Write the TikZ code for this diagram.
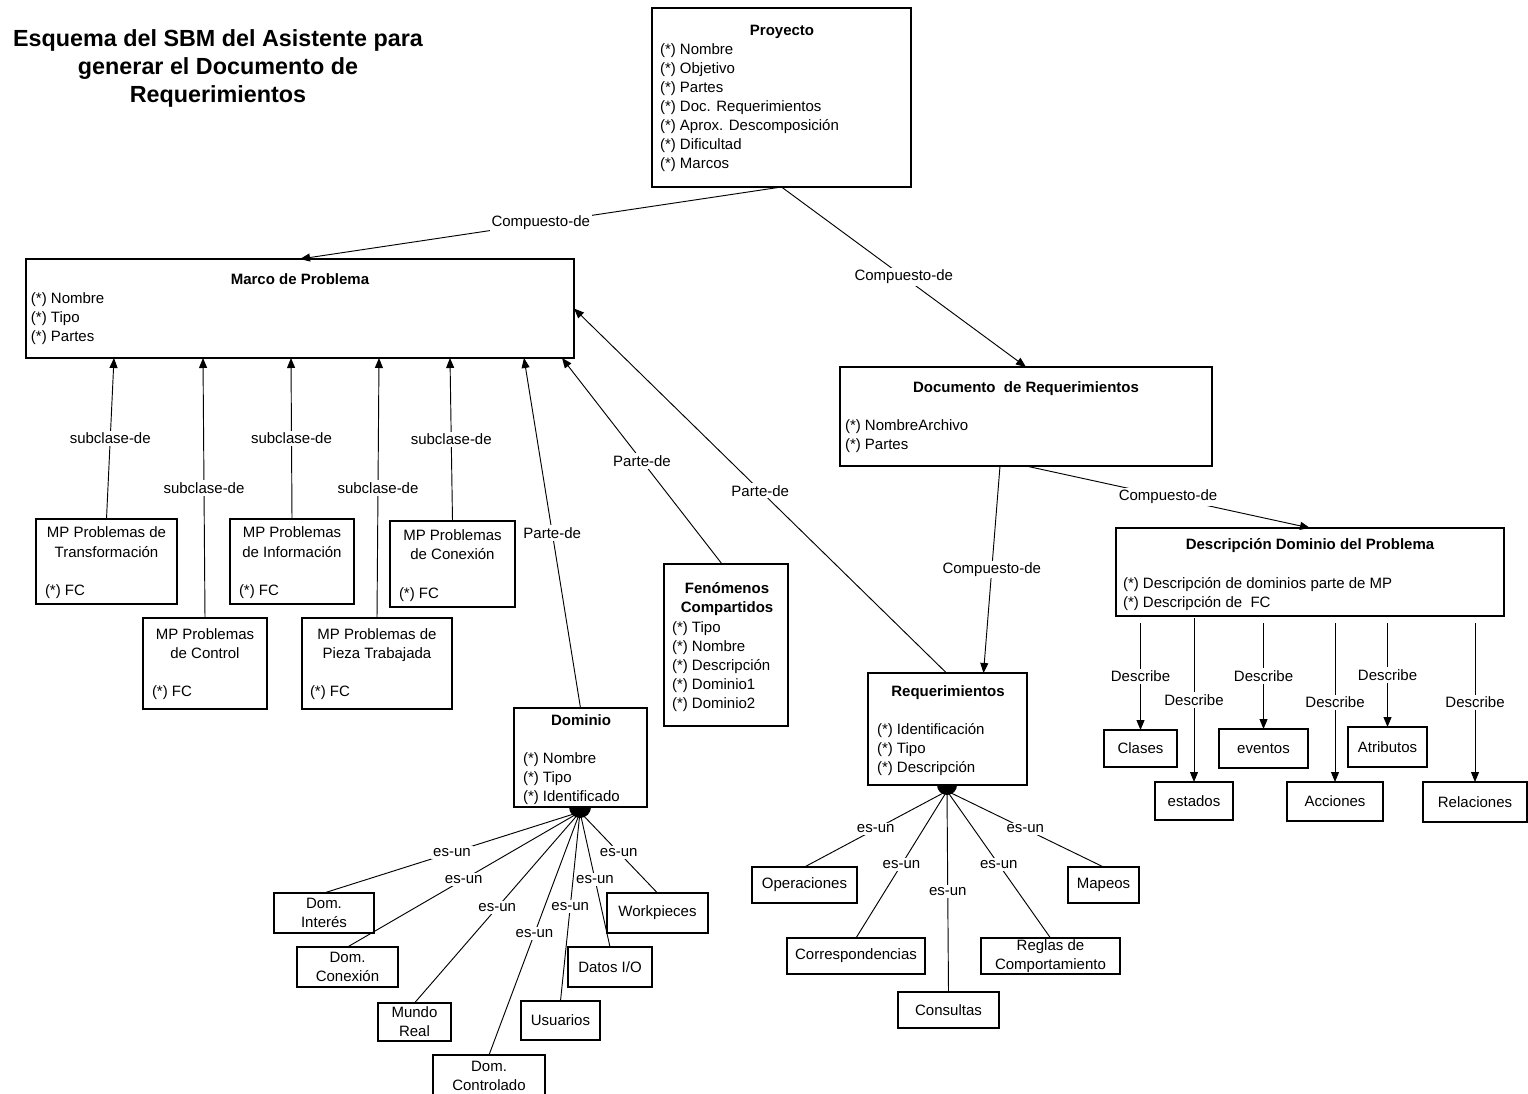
\documentclass[tikz,border=0pt]{standalone}
\usepackage{fontspec}
\setmainfont{Liberation Sans}
\usetikzlibrary{arrows.meta,calc}
\newcommand\bodyfs{\fontsize{11.25pt}{14.25pt}\selectfont}
\newcommand\titlefs{\fontsize{17.5pt}{21pt}\selectfont}
\newcommand\mkbox[6]{\node[boxst, minimum width={(#4-#2)*0.75pt}, minimum height={(#5-#3)*0.75pt}] (#1) at ({(#2+#4)/2},{(#3+#5)/2}) {#6};}
\begin{document}
\begin{tikzpicture}[x=0.75pt,y=-0.75pt,
  boxst/.style={draw, line width=0.9pt, inner sep=0pt, outer sep=0pt, align=center, font=\bodyfs},
  txt/.style={inner sep=0pt, outer sep=0pt, font=\bodyfs, align=left, anchor=base west},
  hdr/.style={inner sep=0pt, outer sep=0pt, font=\bodyfs\bfseries, align=center, anchor=base},
  ctxt/.style={inner sep=0pt, outer sep=0pt, font=\bodyfs, align=center, anchor=base},
  conn/.style={line width=0.7pt},
  arr/.style={conn, -{Triangle[length=7.5pt,width=6pt]}},
  lbl/.style={fill=white, font=\bodyfs, inner sep=1.5pt}]
\fill[white] (0,0) rectangle (1528,1094);
\useasboundingbox (0,0) rectangle (1528,1094);

% title (anchored at the baseline of its last line)
\node[inner sep=0pt, font=\titlefs\bfseries, align=center, anchor=base] (title) at (218,103)
  {Esquema del SBM del Asistente para\\generar el Documento de\\Requerimientos};

% main boxes
\mkbox{proy}{652}{8}{911}{187}{}
\mkbox{marco}{26}{259}{574}{358}{}
\mkbox{docreq}{840}{367}{1212}{466}{}
\mkbox{ddp}{1116}{528}{1504}{616}{}
\mkbox{req}{868}{673}{1027}{785}{}
\mkbox{fen}{664}{564}{788}{726}{}
\mkbox{dom}{514}{708}{647}{807}{}
\mkbox{mpT}{36}{519}{177}{604}{}
\mkbox{mpI}{230}{519}{354}{604}{}
\mkbox{mpCx}{390}{521}{515}{607}{}
\mkbox{mpC}{143}{618}{267}{709}{}
\mkbox{mpP}{302}{618}{452}{709}{}

% box texts (multi-line texts anchored at the baseline of their last line)
\node[hdr] (proyH) at (782,36) {Proyecto};
\node[txt] (proyT) at (660,169) {(*) Nombre\\(*) Objetivo\\(*) Partes\\(*) Doc. Requerimientos\\(*) Aprox. Descomposición\\(*) Dificultad\\(*) Marcos};
\node[hdr] (marcoH) at (300,285) {Marco de Problema};
\node[txt] (marcoT) at (31,342) {(*) Nombre\\(*) Tipo\\(*) Partes};
\node[hdr] (docreqH) at (1026,393) {Documento\ \ de Requerimientos};
\node[txt] (docreqT) at (845,450) {(*) NombreArchivo\\(*) Partes};
\node[hdr] (ddpH) at (1310,550) {Descripción Dominio del Problema};
\node[txt] (ddpT) at (1123,607) {(*) Descripción de dominios parte de MP\\(*) Descripción de\ \ FC};
\node[hdr] (reqH) at (948,696) {Requerimientos};
\node[txt] (reqT) at (877,772) {(*) Identificación\\(*) Tipo\\(*) Descripción};
\node[hdr] (fenH) at (727,612) {Fenómenos\\Compartidos};
\node[txt] (fenT) at (672,708) {(*) Tipo\\(*) Nombre\\(*) Descripción\\(*) Dominio1\\(*) Dominio2};
\node[hdr] (domH) at (581,725) {Dominio};
\node[txt] (domT) at (523,801) {(*) Nombre\\(*) Tipo\\(*) Identificado};
\node[ctxt] (mpTH) at (106.5,557) {MP Problemas de\\Transformación};
\node[txt] (mpTF) at (45,595) {(*) FC};
\node[ctxt] (mpIH) at (292,557) {MP Problemas\\de Información};
\node[txt] (mpIF) at (239,595) {(*) FC};
\node[ctxt] (mpCxH) at (452.5,560) {MP Problemas\\de Conexión};
\node[txt] (mpCxF) at (399,598) {(*) FC};
\node[ctxt] (mpCH) at (205,658) {MP Problemas\\de Control};
\node[txt] (mpCF) at (152,696) {(*) FC};
\node[ctxt] (mpPH) at (377,658) {MP Problemas de\\Pieza Trabajada};
\node[txt] (mpPF) at (310,696) {(*) FC};

% describe children
\mkbox{clases}{1104}{730}{1177}{767}{Clases}
\mkbox{estados}{1155}{782}{1233}{820}{estados}
\mkbox{eventos}{1219}{729}{1308}{768}{eventos}
\mkbox{acciones}{1287}{782}{1383}{821}{Acciones}
\mkbox{atrib}{1348}{727}{1427}{767}{Atributos}
\mkbox{relac}{1423}{782}{1527}{822}{Relaciones}

% requerimientos children
\mkbox{oper}{752}{867}{857}{903}{Operaciones}
\mkbox{corr}{787}{938}{925}{974}{Correspondencias}
\mkbox{cons}{898}{992}{999}{1028}{Consultas}
\mkbox{reglas}{981}{938}{1120}{974}{Reglas de\\Comportamiento}
\mkbox{mapeos}{1068}{867}{1139}{903}{Mapeos}

% dominio children
\mkbox{dInt}{274}{893}{374}{933}{Dom.\\Interés}
\mkbox{dCon}{297}{947}{398}{987}{Dom.\\Conexión}
\mkbox{dMun}{378}{1003}{451}{1041}{Mundo\\Real}
\mkbox{dCtl}{433}{1055}{545}{1097}{Dom.\\Controlado}
\mkbox{dUsu}{521}{1001}{600}{1040}{Usuarios}
\mkbox{dDat}{568}{947}{652}{987}{Datos I/O}
\mkbox{dWork}{607}{893}{708}{933}{Workpieces}

% composition arrows
\draw[arr] (proy.south) -- node[lbl,pos=0.5]{Compuesto-de} (marco.north);
\draw[arr] (proy.south) -- node[lbl,pos=0.5]{Compuesto-de} (docreq.north);
\draw[arr] ($(docreq.south)+(-26,0)$) -- node[lbl,pos=0.5]{Compuesto-de} ($(req.north)+(36,0)$);
\draw[arr] (docreq.south) -- node[lbl,pos=0.5]{Compuesto-de} (ddp.north);

% subclass arrows
\draw[arr] (mpT.north) -- node[lbl,pos=0.5]{subclase-de} ($(marco.south west)+(88,0)$);
\draw[arr] (mpC.north) -- node[lbl,pos=0.5]{subclase-de} ($(marco.south west)+(177,0)$);
\draw[arr] (mpI.north) -- node[lbl,pos=0.5]{subclase-de} ($(marco.south west)+(265,0)$);
\draw[arr] (mpP.north) -- node[lbl,pos=0.5]{subclase-de} ($(marco.south west)+(353,0)$);
\draw[arr] (mpCx.north) -- node[lbl,pos=0.5]{subclase-de} ($(marco.south west)+(424,0)$);

% part-of arrows
\draw[arr] (dom.north) -- node[lbl,pos=0.5]{Parte-de} ($(marco.south west)+(498,0)$);
\draw[arr] ($(fen.north)+(-4,0)$) -- node[lbl,pos=0.5]{Parte-de} ($(marco.south west)+(536,0)$);
\draw[arr] ($(req.north)+(-1,0)$) -- node[lbl,pos=0.5]{Parte-de} (marco.east);

% describe arrows
\foreach \n/\d in {clases/7, estados/2, eventos/7, acciones/7, atrib/7, relac/7}
  \draw[arr] ($(ddp.south -| \n.north)+(0,\d)$) -- node[lbl,pos=0.5]{Describe} (\n.north);

% es-un (dominio)
\coordinate (domj) at (580,812);
\foreach \n in {dInt,dCon,dMun,dCtl,dUsu,dDat,dWork}
  \draw[conn] (domj) -- node[lbl,pos=0.5]{es-un} (\n.north);
\fill (569,807) arc[start angle=180,end angle=0,radius=11] -- cycle;

% es-un (requerimientos)
\coordinate (reqj) at (947,791);
\foreach \n in {oper,corr,cons,reglas,mapeos}
  \draw[conn] (reqj) -- node[lbl,pos=0.5]{es-un} (\n.north);
\fill (937,785) arc[start angle=180,end angle=0,radius=10] -- cycle;
\end{tikzpicture}
\end{document}
